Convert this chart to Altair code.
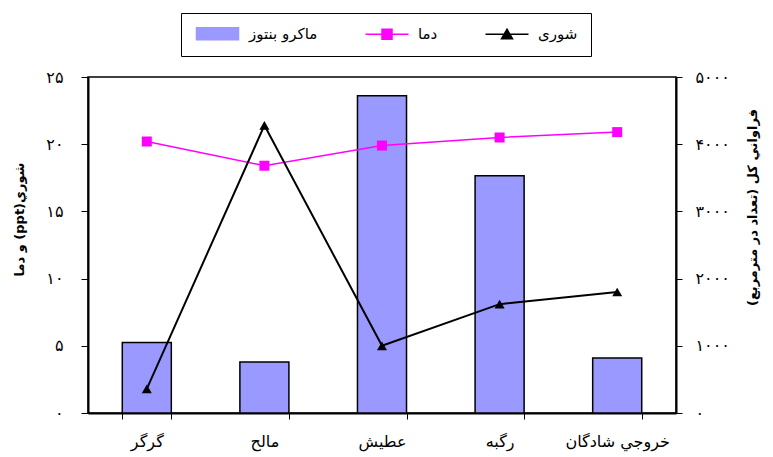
import altair as alt
import pandas as pd

# ---- data ----
sites = ["گرگر", "مالح", "عطیش", "رگبه", "خروجي شادگان"]
benthos = [1050, 760, 4720, 3530, 820]          # right axis (count per m2)
temperature = [20.2, 18.4, 19.9, 20.5, 20.9]    # left axis
salinity = [1.8, 21.4, 5.0, 8.1, 9.0]           # left axis

series_names = ["ماکرو بنتوز", "دما", "شوری"]
series_colors = ["#9999ff", "#ff00ff", "#000000"]

left_ticks = [0, 5, 10, 15, 20, 25]
left_labels = ["۰", "۵", "۱۰", "۱۵", "۲۰", "۲۵"]
right_ticks = [0, 1000, 2000, 3000, 4000, 5000]
right_labels = ["۰", "۱۰۰۰", "۲۰۰۰", "۳۰۰۰", "۴۰۰۰", "۵۰۰۰"]

left_title = "\u202bشوري(ppt) و دما\u202c"
right_title = "\u202bفراواني كل (تعداد در مترمربع)\u202c"

FONT = "DejaVu Sans"

bars_df = pd.DataFrame({"site": sites, "value": benthos, "series": series_names[0]})
lines_df = pd.DataFrame({
    "site": sites + sites,
    "value": temperature + salinity,
    "series": [series_names[1]] * len(sites) + [series_names[2]] * len(sites),
})


def label_expr(ticks, labels):
    expr = "''"
    for t, l in reversed(list(zip(ticks, labels))):
        expr = f"datum.value == {t} ? '{l}' : ({expr})"
    return expr


def per_entry(values):
    expr = f"'{values[-1]}'"
    for n, v in reversed(list(zip(series_names[:-1], values[:-1]))):
        expr = f"datum.value === '{n}' ? '{v}' : ({expr})"
    return {"expr": expr}


# legend symbols (custom paths, units of 5px with symbolSize=100)
legend_paths = [
    "M-1,-1.2H7.4V1.2H-1Z",
    "M-1,0H7.6M2.3,-1H4.3V1H2.3Z",
    "M-1,0H7.6M3.3,-1L4.4,0.9H2.2Z",
]
legend_strokes = ["#000000", "#ff00ff", "#000000"]

legend = alt.Legend(
    title=None,
    orient="none",
    legendX=93,
    legendY=-64,
    direction="horizontal",
    symbolSize=100,
    symbolType=per_entry(legend_paths),
    symbolFillColor=per_entry(series_colors),
    symbolStrokeColor=per_entry(legend_strokes),
    symbolStrokeWidth=1.5,
    symbolOpacity=1,
    labelOffset=40,
    columnPadding=44,
    padding=13,
    strokeColor="black",
    fillColor="white",
    labelFont=FONT,
    labelFontSize=15,
    labelColor="black",
)

color = alt.Color(
    "series:N",
    scale=alt.Scale(domain=series_names, range=series_colors),
    legend=legend,
)

x_enc = alt.X(
    "site:N",
    sort=sites,
    scale=alt.Scale(paddingInner=0.583, paddingOuter=0.2915),
    axis=alt.Axis(
        title=None, labelAngle=0, tickBand="extent", tickSize=6,
        tickColor="black", domainColor="black", domainWidth=2,
        labelFont=FONT, labelFontSize=16, labelColor="black",
        labelPadding=14, grid=False,
    ),
)

left_axis = alt.Axis(
    orient="left", values=left_ticks, labelExpr=label_expr(left_ticks, left_labels),
    title=left_title, titleAngle=270, titleX=-69, titleY=142,
    titleAlign="center", titleBaseline="middle",
    titleFont=FONT, titleFontSize=13, titleFontWeight="bold", titleColor="black",
    tickSize=7, tickColor="black", domainColor="black", domainWidth=2,
    labelFont=FONT, labelFontSize=16, labelColor="black", labelPadding=18,
    grid=False,
)

right_axis = alt.Axis(
    orient="right", values=right_ticks, labelExpr=label_expr(right_ticks, right_labels),
    title=right_title, titleAngle=270, titleX=76, titleY=130,
    titleAlign="center", titleBaseline="middle",
    titleFont=FONT, titleFontSize=13, titleFontWeight="bold", titleColor="black",
    tickSize=6, tickColor="black", domainColor="black", domainWidth=2,
    labelFont=FONT, labelFontSize=16, labelColor="black", labelPadding=13,
    grid=False,
)

bars = alt.Chart(bars_df).mark_bar(stroke="black", strokeWidth=1.5).encode(
    x=x_enc,
    y=alt.Y("value:Q", scale=alt.Scale(domain=[0, 5000]), axis=right_axis),
    color=color,
)

lines = alt.Chart(lines_df).mark_line().encode(
    x=x_enc,
    y=alt.Y("value:Q", scale=alt.Scale(domain=[0, 25]), axis=left_axis),
    color=color,
    strokeWidth=alt.StrokeWidth(
        "series:N", scale=alt.Scale(domain=series_names[1:], range=[1.5, 2]), legend=None
    ),
)

points = alt.Chart(lines_df).mark_point(filled=True, opacity=1, size=100).encode(
    x=x_enc,
    y=alt.Y("value:Q", scale=alt.Scale(domain=[0, 25]), axis=left_axis),
    color=color,
    shape=alt.Shape(
        "series:N", scale=alt.Scale(domain=series_names[1:], range=["square", "triangle-up"]),
        legend=None,
    ),
)

chart = (
    alt.layer(bars, alt.layer(lines, points))
    .resolve_scale(y="independent")
    .properties(
        width=588,
        height=336,
        padding={"left": 88, "top": 77, "right": 97, "bottom": 44},
        autosize=alt.AutoSizeParams(type="none"),
        background="white",
    )
    .configure_view(stroke="black", strokeWidth=1.5)
)

chart.save("out.html", embed_options={"renderer": "svg", "actions": False})
